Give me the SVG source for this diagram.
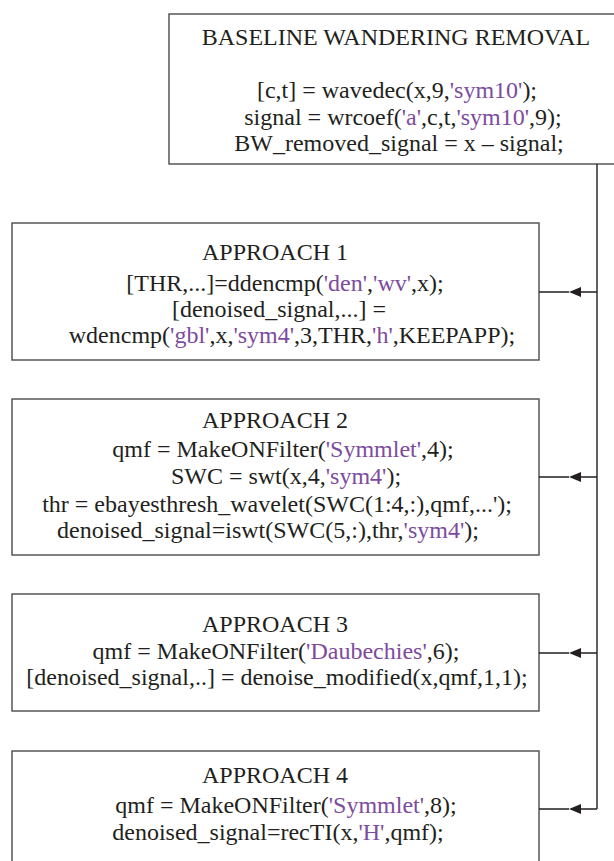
<svg xmlns="http://www.w3.org/2000/svg" width="614" height="861" viewBox="0 0 614 861">
<style>
  .box { fill: #ffffff; stroke: #4a4a4a; stroke-width: 1.4; }
  .t { font-family: "Liberation Serif", "Times New Roman", serif; font-size: 24px; fill: #231f20; text-anchor: middle; }
  .s { fill: #7d4b9e; }
  .conn { fill: none; stroke: #231f20; stroke-width: 1.4; }
  .head { fill: #231f20; }
</style>
<rect width="614" height="861" fill="#ffffff"/>

<g id="baseline">
  <rect class="box" x="169" y="14" width="470" height="150"/>
  <text class="t" x="396" y="45">BASELINE WANDERING REMOVAL</text>
  <text class="t" x="397" y="98">[c,t] = wavedec(x,9,<tspan class="s">'sym10'</tspan>);</text>
  <text class="t" x="403" y="125">signal = wrcoef(<tspan class="s">'a'</tspan>,c,t,<tspan class="s">'sym10'</tspan>,9);</text>
  <text class="t" x="399" y="151">BW_removed_signal = x – signal;</text>
</g>

<g id="approach1">
  <rect class="box" x="12" y="223" width="527" height="137"/>
  <text class="t" x="275" y="260">APPROACH 1</text>
  <text class="t" x="285" y="291">[THR,...]=ddencmp(<tspan class="s">'den'</tspan>,<tspan class="s">'wv'</tspan>,x);</text>
  <text class="t" x="279" y="317">[denoised_signal,...] =</text>
  <text class="t" x="292" y="343">wdencmp(<tspan class="s">'gbl'</tspan>,x,<tspan class="s">'sym4'</tspan>,3,THR,<tspan class="s">'h'</tspan>,KEEPAPP);</text>
</g>

<g id="approach2">
  <rect class="box" x="12" y="399" width="527" height="156"/>
  <text class="t" x="275" y="428">APPROACH 2</text>
  <text class="t" x="283" y="457">qmf = MakeONFilter(<tspan class="s">'Symmlet'</tspan>,4);</text>
  <text class="t" x="286" y="484">SWC = swt(x,4,<tspan class="s">'sym4'</tspan>);</text>
  <text class="t" x="277" y="512">thr = ebayesthresh_wavelet(SWC(1:4,:),qmf,...');</text>
  <text class="t" x="268" y="538">denoised_signal=iswt(SWC(5,:),thr,<tspan class="s">'sym4'</tspan>);</text>
</g>

<g id="approach3">
  <rect class="box" x="12" y="594" width="527" height="117"/>
  <text class="t" x="275" y="632">APPROACH 3</text>
  <text class="t" x="276" y="659">qmf = MakeONFilter(<tspan class="s">'Daubechies'</tspan>,6);</text>
  <text class="t" x="277" y="685">[denoised_signal,..] = denoise_modified(x,qmf,1,1);</text>
</g>

<g id="approach4">
  <rect class="box" x="12" y="751" width="527" height="130"/>
  <text class="t" x="275" y="783">APPROACH 4</text>
  <text class="t" x="286" y="813">qmf = MakeONFilter(<tspan class="s">'Symmlet'</tspan>,8);</text>
  <text class="t" x="278" y="840">denoised_signal=recTI(x,<tspan class="s">'H'</tspan>,qmf);</text>
</g>

<g id="connectors">
  <path class="conn" d="M597,164 V809"/>
  <path class="conn" d="M597,292 H581 M569,292 H539"/>
  <path class="conn" d="M597,477 H581 M569,477 H539"/>
  <path class="conn" d="M597,653 H581 M569,653 H539"/>
  <path class="conn" d="M597,809 H581 M569,809 H539"/>
  <path class="head" d="M569,292 L581,287 L581,297 Z"/>
  <path class="head" d="M569,477 L581,472 L581,482 Z"/>
  <path class="head" d="M569,653 L581,648 L581,658 Z"/>
  <path class="head" d="M569,809 L581,804 L581,814 Z"/>
</g>
</svg>
